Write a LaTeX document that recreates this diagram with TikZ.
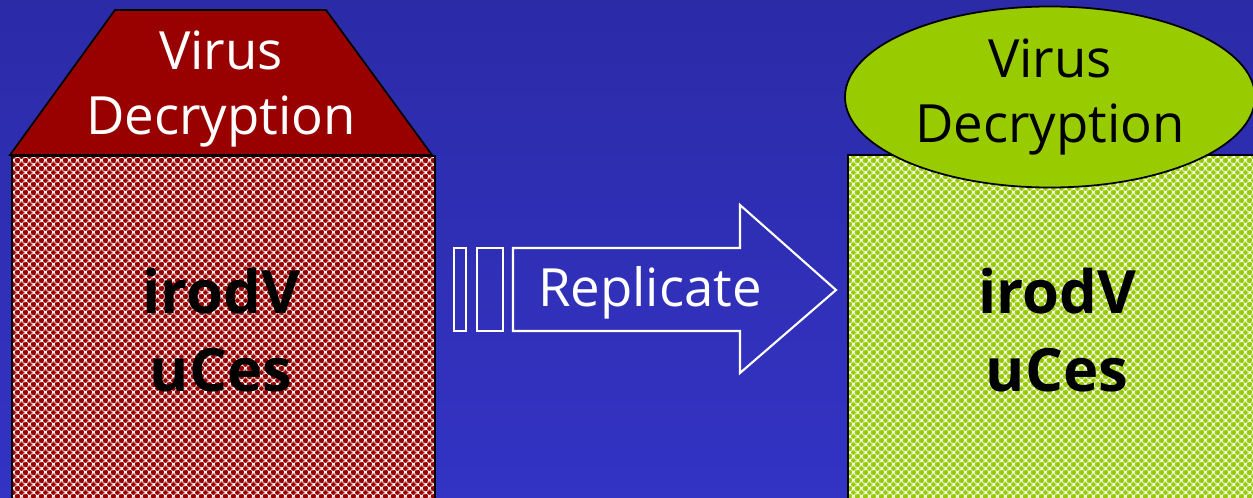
\documentclass[tikz,border=0pt]{standalone}
\usepackage{fontspec}
\setmainfont{Open Sans}
\usetikzlibrary{shapes.geometric,patterns.meta}
\definecolor{bgtop}{RGB}{43,43,168}
\definecolor{bgbot}{RGB}{51,51,196}
\definecolor{virred}{HTML}{990000}
\definecolor{virgreen}{HTML}{99CC00}

% checker of round dots
\tikzdeclarepattern{
  name=bubbles,
  type=uncolored,
  bounding box={(0pt,0pt) and (4.6pt,4.6pt)},
  tile size={(4.6pt,4.6pt)},
  code={
    \foreach \dx in {-4.6,0,4.6} {
      \foreach \dy in {-4.6,0,4.6} {
        \fill (\dx pt+1.15pt,\dy pt+1.15pt) circle (1.5pt);
        \fill (\dx pt+3.45pt,\dy pt+3.45pt) circle (1.5pt);
      }
    }
  }
}

\begin{document}
\begin{tikzpicture}[
  x=0.2mm, y=0.2mm,
  big/.style={font=\fontsize{30}{37}\selectfont, align=center, inner sep=0pt},
  code/.style={font=\fontsize{34}{44}\selectfont\bfseries, align=center, inner sep=0pt},
  body/.style={draw=black, line width=1pt, pattern=bubbles},
  outline/.style={draw=white, line width=1.2pt},
]
\useasboundingbox (0,0) rectangle (1253,497);
\shade[top color=bgtop, bottom color=bgbot] (0,0) rectangle (1253,497);
% Left: encrypted body with its decryptor
\fill[white] (12,-5) rectangle (435,341);
\path[body, pattern color=virred] (12,-5) rectangle (435,341);
\filldraw[fill=virred, draw=black, line width=1pt] (10,342) -- (432,342) -- (326,487) -- (115,487) -- cycle;
\node[big, text=white] (dec1) at (221,408) {Virus\\Decryption};
\node[code] (body1) at (221,167) {irodV\\uCes};
% Replicate
\draw[outline] (454,166) rectangle (466,249);
\draw[outline] (477,166) rectangle (503,249);
\draw[outline] (513,166) -- (513,249) -- (740,249) -- (740,292) -- (836,207)
  -- (740,124) -- (740,166) -- cycle;
\node[big, text=white] (rep) at (650,204) {Replicate};
% Right: new copy
\fill[white] (848,-5) rectangle (1260,342);
\path[body, pattern color=virgreen] (848,-5) rectangle (1260,342);
\node[draw=black, line width=1pt, fill=virgreen, ellipse, minimum width=8.2cm,
  minimum height=3.62cm, big] (dec2) at (1050,400) {Virus\\Decryption};
\node[code] (body2) at (1057,167) {irodV\\uCes};
\end{tikzpicture}
\end{document}
